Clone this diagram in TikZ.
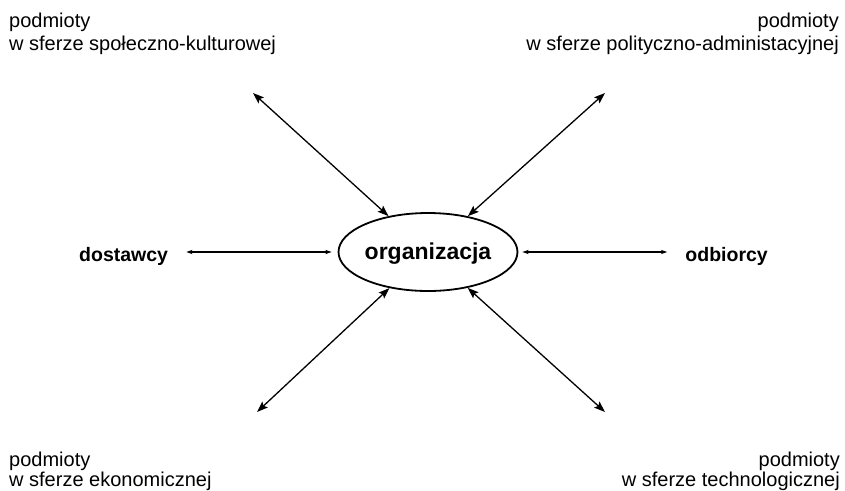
\documentclass[tikz,border=0pt]{standalone}
\usepackage{fontspec}
\setmainfont{Liberation Sans}
\usetikzlibrary{arrows.meta,shapes.geometric}

\tikzset{
  sidelabel/.style={inner sep=0pt, font=\fontsize{20}{23}\selectfont},
  lowlabel/.style={inner sep=0pt, font=\fontsize{20}{20}\selectfont},
  keylabel/.style={inner sep=0pt, font=\fontsize{19.5}{23}\selectfont\bfseries},
  hub/.style={ellipse, draw, line width=1.8pt, minimum width=170pt, minimum height=78pt,
              inner sep=0pt, font=\fontsize{23}{26}\selectfont\bfseries},
  diag/.style={line width=1.3pt, {Stealth[length=11pt,width=8pt,inset=2pt]}-{Stealth[length=11pt,width=8pt,inset=2pt]}},
  flat/.style={line width=1.2pt, {Stealth[length=6pt,width=4pt,inset=1pt]}-{Stealth[length=6pt,width=4pt,inset=1pt]}}
}

\begin{document}
\begin{tikzpicture}[x=1pt,y=-1pt]
\useasboundingbox (0,0) rectangle (845,490);

% central organisation
\node[hub] (org) at (428,252) {\raisebox{-3pt}[12pt][4pt]{organizacja}};

% market partners on the sides
\node[keylabel, anchor=base west] (dost) at (79,261) {dostawcy};
\node[keylabel, anchor=base east] (odb) at (768,261) {odbiorcy};

% corner groups of stakeholders (anchor sits on the last line)
\node[sidelabel, anchor=base west, align=left] (spol) at (9,50)
  {podmioty\\w sferze społeczno-kulturowej};
\node[sidelabel, anchor=base east, align=right] (pol) at (839,50)
  {podmioty\\w sferze polityczno-administacyjnej};
\node[lowlabel, anchor=base west, align=left] (eko) at (9,486)
  {podmioty\\w sferze ekonomicznej};
\node[lowlabel, anchor=base east, align=right] (tech) at (840,486)
  {podmioty\\w sferze technologicznej};

% free ends of the diagonal links
\coordinate (ctl) at (253,93);
\coordinate (ctr) at (605,93);
\coordinate (cbl) at (257,412);
\coordinate (cbr) at (605,412);

\draw[diag] (ctl) -- (org);
\draw[diag] (ctr) -- (org);
\draw[diag] (cbl) -- (org);
\draw[diag] (cbr) -- (org);

% horizontal links
\draw[flat, shorten <=18pt, shorten >=6pt] (dost.east |- org) -- (org.west);
\draw[flat, shorten <=4pt, shorten >=18pt] (org.east) -- (odb.west |- org);
\end{tikzpicture}
\end{document}
